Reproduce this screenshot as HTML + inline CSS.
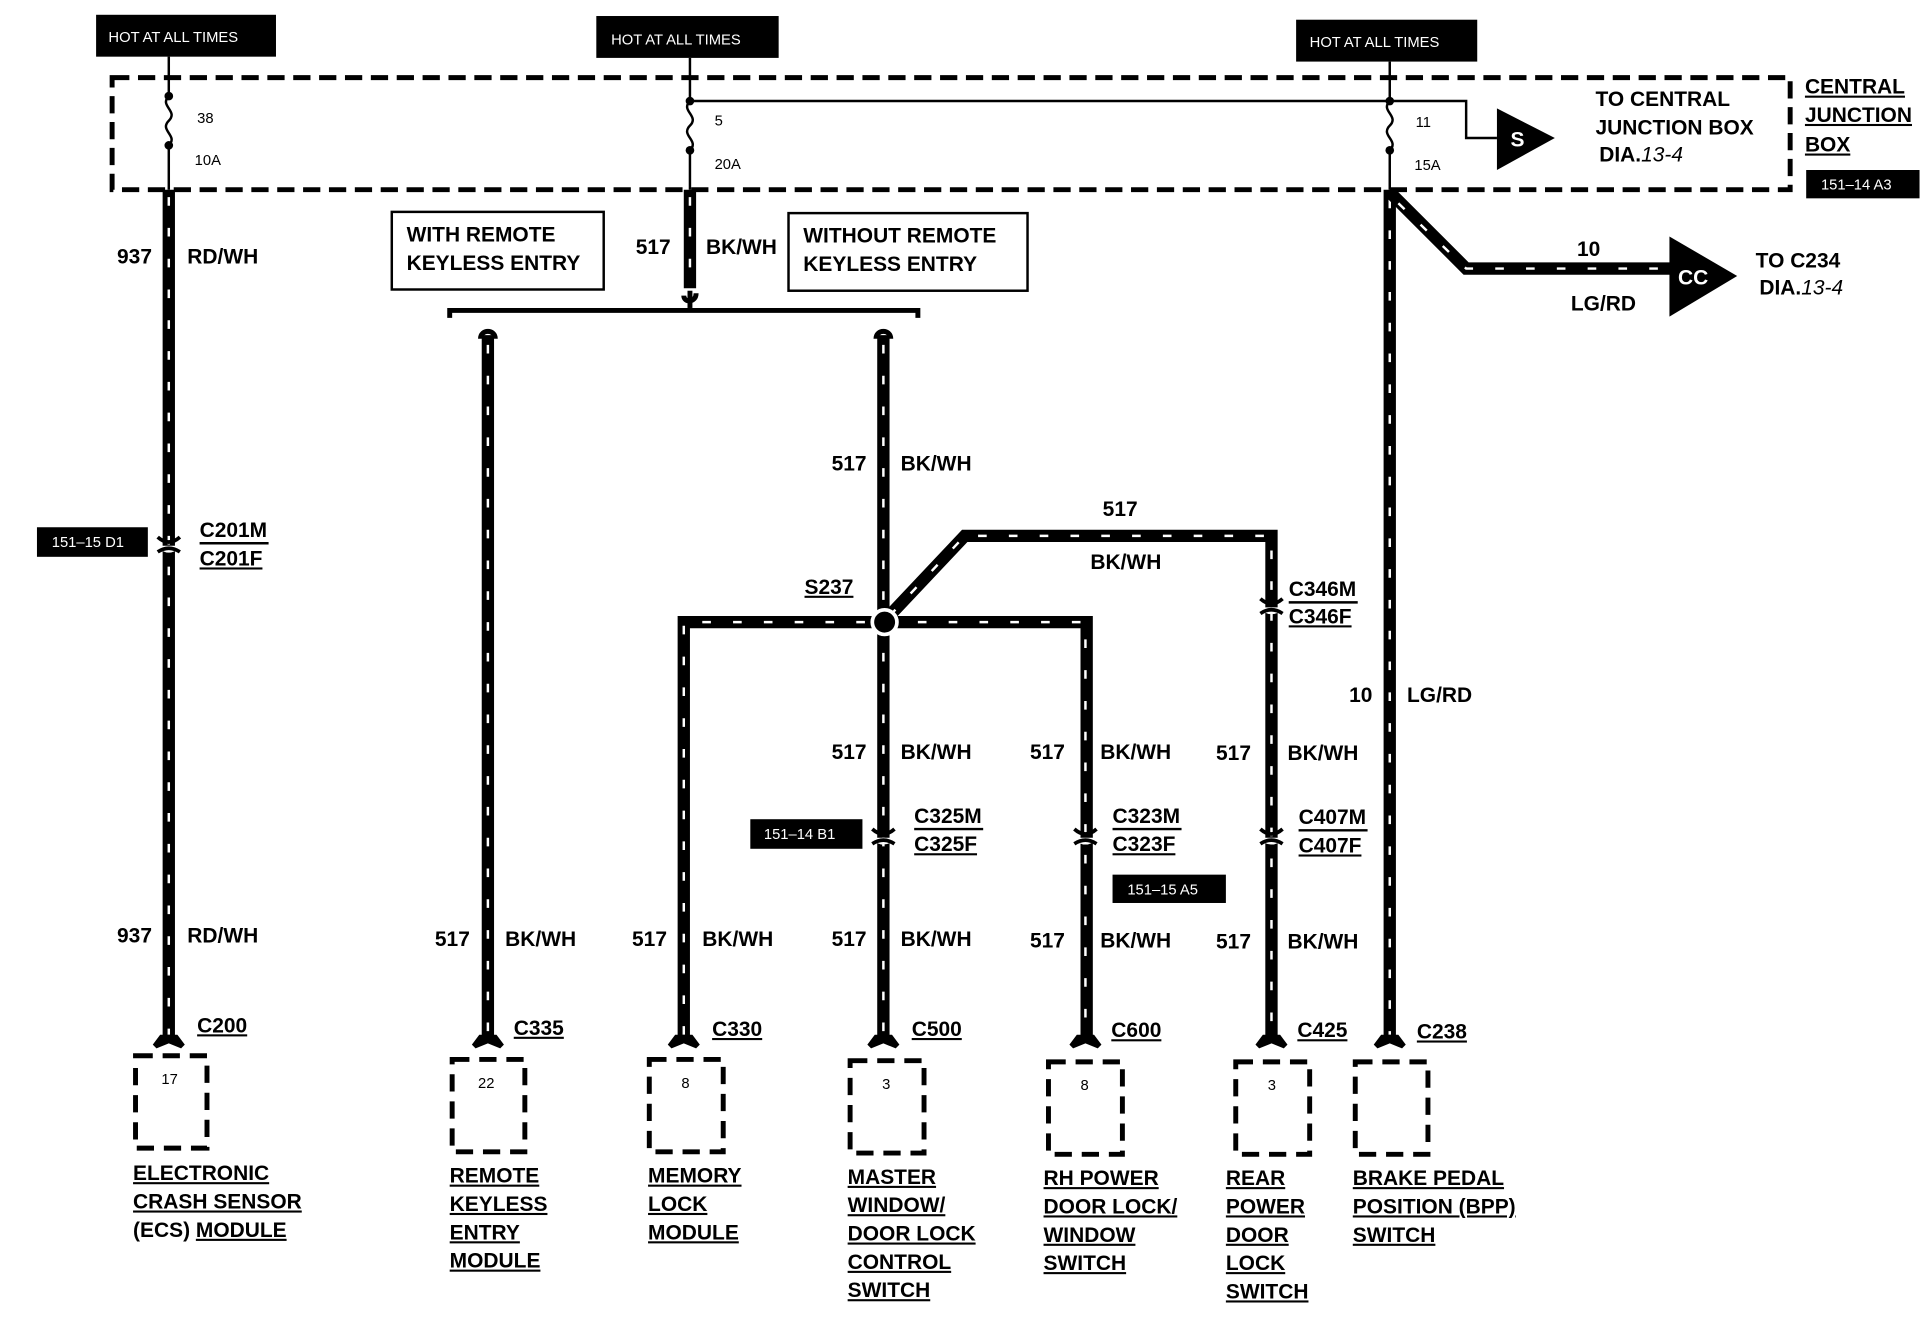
<!DOCTYPE html>
<html><head><meta charset="utf-8"><style>
html,body{margin:0;padding:0;background:#fff;}
svg{display:block}
text{font-family:"Liberation Sans",Arial,sans-serif;font-weight:bold;fill:#000}
.l{font-size:17px}
.s{font-size:12px;font-weight:normal}
.u{text-decoration:underline}
.w{fill:none;stroke:#000;stroke-width:10;stroke-linejoin:miter}
.t{fill:none;stroke:#fff;stroke-width:2;stroke-dasharray:7 18}
.d{fill:none;stroke:#000;stroke-width:4;stroke-dasharray:14 7}
.bx{fill:#000}
.wt{fill:#fff;font-size:12px;font-weight:normal}
</style></head><body>
<svg width="1922" height="1344" viewBox="0 0 1560 1091" preserveAspectRatio="none" xmlns="http://www.w3.org/2000/svg">
<rect width="1560" height="1091" fill="#fff"/>
<!-- HOT boxes -->
<rect class="bx" x="78" y="12" width="146" height="34"/><text class="wt" x="88" y="34">HOT AT ALL TIMES</text>
<rect class="bx" x="484" y="13" width="148" height="34"/><text class="wt" x="496" y="36">HOT AT ALL TIMES</text>
<rect class="bx" x="1052" y="16" width="147" height="34"/><text class="wt" x="1063" y="38">HOT AT ALL TIMES</text>
<!-- junction box dashed -->
<rect class="d" x="91" y="63" width="1362" height="91"/>
<!-- fuses -->
<g fill="none" stroke="#000" stroke-width="2">
<path d="M137 46 V78 M137 78 c-8 8 8 12 0 20 c-8 8 8 12 0 20 V154"/>
<path d="M560 47 V82 M560 82 c-8 8 8 12 0 20 c-8 8 8 12 0 20 V154"/>
<path d="M1128 50 V82 M1128 82 c-8 8 8 12 0 20 c-8 8 8 12 0 20 V154"/>
<path d="M560 82 H1190 V112 H1215"/>
</g>
<g fill="#000"><circle cx="137" cy="78" r="3.5"/><circle cx="137" cy="118" r="3.5"/><circle cx="560" cy="82" r="3.5"/><circle cx="560" cy="122" r="3.5"/><circle cx="1128" cy="82" r="3.5"/><circle cx="1128" cy="122" r="3.5"/></g>
<text class="s" x="160" y="100">38</text><text class="s" x="158" y="134">10A</text>
<text class="s" x="580" y="102">5</text><text class="s" x="580" y="137">20A</text>
<text class="s" x="1149" y="103">11</text><text class="s" x="1148" y="138">15A</text>
<polygon points="1215,88 1262,112 1215,138" fill="#000"/><text x="1226" y="119" class="l" fill="#fff" style="fill:#fff">S</text>
<text class="l" x="1295" y="86">TO CENTRAL</text>
<text class="l" x="1295" y="109">JUNCTION BOX</text>
<text class="l" x="1298" y="131">DIA.<tspan font-style="italic" font-weight="normal">13-4</tspan></text>
<text class="l u" x="1465" y="76">CENTRAL</text>
<text class="l u" x="1465" y="99">JUNCTION</text>
<text class="l u" x="1465" y="123">BOX</text>
<rect class="bx" x="1466" y="138" width="92" height="23"/><text class="wt" x="1478" y="154">151–14 A3</text>

<!-- wires -->
<g>
<path class="w" d="M137 154 V845"/><path class="t" d="M137 160 V840"/>
<path class="w" d="M560 154 V234"/><path class="t" d="M560 160 V230"/>
<path class="w" d="M396 272 V845"/><path class="t" d="M396 280 V840"/>
<path class="w" d="M717 272 V845"/><path class="t" d="M717 280 V840"/>
<path class="w" d="M555 845 V505 H882 V845"/><path class="t" d="M555 840 V505 H881 V840"/>
<path class="w" d="M717 505 L783 435 H1032 V845"/><path class="t" d="M722 500 L783 435 H1032 V840"/>
<path class="w" d="M1128 154 V845"/><path class="t" d="M1128 162 V840"/>
<path class="w" d="M1128 156 L1190 218 H1358"/><path class="t" d="M1135 165 L1190 218 H1350"/>
</g>
<polygon points="1355,192 1410,224 1355,257" fill="#000"/><text x="1362" y="231" class="l" style="fill:#fff">CC</text>
<text class="l" x="1280" y="208">10</text><text class="l" x="1275" y="252">LG/RD</text>
<text class="l" x="1425" y="217">TO C234</text>
<text class="l" x="1428" y="239">DIA.<tspan font-style="italic" font-weight="normal">13-4</tspan></text>

<!-- bracket -->
<g fill="none" stroke="#000" stroke-width="4">
<path d="M365 258 V252 H745 V258"/>
<path d="M560 250 L560 236"/>
<path d="M390 275 c0 -8 12 -8 12 0"/><path d="M711 275 c0 -8 12 -8 12 0"/>
<path d="M555 240 c0 6 10 6 10 -2"/>
</g>
<circle cx="718" cy="505" r="10" fill="#000" stroke="#fff" stroke-width="3"/>

<!-- option boxes -->
<rect x="318" y="172" width="172" height="63" fill="none" stroke="#000" stroke-width="2"/>
<text class="l" x="330" y="196">WITH REMOTE</text><text class="l" x="330" y="219">KEYLESS ENTRY</text>
<rect x="640" y="173" width="194" height="63" fill="none" stroke="#000" stroke-width="2"/>
<text class="l" x="652" y="197">WITHOUT REMOTE</text><text class="l" x="652" y="220">KEYLESS ENTRY</text>

<!-- wire labels -->
<text class="l" x="95" y="214">937</text><text class="l" x="152" y="214">RD/WH</text>
<text class="l" x="516" y="206">517</text><text class="l" x="573" y="206">BK/WH</text>
<text class="l" x="675" y="382">517</text><text class="l" x="731" y="382">BK/WH</text>
<text class="l" x="895" y="419">517</text><text class="l" x="885" y="462">BK/WH</text>
<text class="l u" x="653" y="482">S237</text>
<text class="l" x="675" y="616">517</text><text class="l" x="731" y="616">BK/WH</text>
<text class="l" x="836" y="616">517</text><text class="l" x="893" y="616">BK/WH</text>
<text class="l" x="987" y="617">517</text><text class="l" x="1045" y="617">BK/WH</text>
<text class="l" x="1095" y="570">10</text><text class="l" x="1142" y="570">LG/RD</text>
<text class="l" x="95" y="765">937</text><text class="l" x="152" y="765">RD/WH</text>
<text class="l" x="353" y="768">517</text><text class="l" x="410" y="768">BK/WH</text>
<text class="l" x="513" y="768">517</text><text class="l" x="570" y="768">BK/WH</text>
<text class="l" x="675" y="768">517</text><text class="l" x="731" y="768">BK/WH</text>
<text class="l" x="836" y="769">517</text><text class="l" x="893" y="769">BK/WH</text>
<text class="l" x="987" y="770">517</text><text class="l" x="1045" y="770">BK/WH</text>

<!-- inline connectors -->
<g fill="#fff" stroke="#fff" stroke-width="3">
<path d="M128 443 q9 8 18 0"/><path d="M708 680 q9 8 18 0"/><path d="M872 680 q9 8 18 0"/><path d="M1023 680 q9 8 18 0"/><path d="M1023 493 q9 8 18 0"/>
</g>
<g fill="none" stroke="#000" stroke-width="3">
<path d="M128 436 q9 8 18 0 M128 448 q9 -6 18 0"/>
<path d="M708 673 q9 8 18 0 M708 685 q9 -6 18 0"/>
<path d="M872 673 q9 8 18 0 M872 685 q9 -6 18 0"/>
<path d="M1023 673 q9 8 18 0 M1023 685 q9 -6 18 0"/>
<path d="M1023 486 q9 8 18 0 M1023 498 q9 -6 18 0"/>
</g>
<text class="l" x="162" y="436">C201M</text><text class="l u" x="162" y="459">C201F</text><line x1="162" y1="441" x2="218" y2="441" stroke="#000" stroke-width="2"/>
<text class="l" x="742" y="668">C325M</text><text class="l u" x="742" y="691">C325F</text><line x1="742" y1="673" x2="798" y2="673" stroke="#000" stroke-width="2"/>
<text class="l" x="903" y="668">C323M</text><text class="l u" x="903" y="691">C323F</text><line x1="903" y1="673" x2="959" y2="673" stroke="#000" stroke-width="2"/>
<text class="l" x="1054" y="669">C407M</text><text class="l u" x="1054" y="692">C407F</text><line x1="1054" y1="674" x2="1110" y2="674" stroke="#000" stroke-width="2"/>
<text class="l" x="1046" y="484">C346M</text><text class="l u" x="1046" y="506">C346F</text><line x1="1046" y1="489" x2="1102" y2="489" stroke="#000" stroke-width="2"/>
<rect class="bx" x="30" y="428" width="90" height="24"/><text class="wt" x="42" y="444">151–15 D1</text>
<rect class="bx" x="609" y="665" width="91" height="24"/><text class="wt" x="620" y="681">151–14 B1</text>
<rect class="bx" x="903" y="710" width="92" height="23"/><text class="wt" x="915" y="726">151–15 A5</text>

<!-- terminals & components -->
<g fill="#000">
<path d="M130 840 h14 l6 8 l-3 3 l-10 -4 l-10 4 l-3 -3z"/>
<path d="M389 840 h14 l6 8 l-3 3 l-10 -4 l-10 4 l-3 -3z"/>
<path d="M548 840 h14 l6 8 l-3 3 l-10 -4 l-10 4 l-3 -3z"/>
<path d="M710 840 h14 l6 8 l-3 3 l-10 -4 l-10 4 l-3 -3z"/>
<path d="M874 840 h14 l6 8 l-3 3 l-10 -4 l-10 4 l-3 -3z"/>
<path d="M1025 840 h14 l6 8 l-3 3 l-10 -4 l-10 4 l-3 -3z"/>
<path d="M1121 840 h14 l6 8 l-3 3 l-10 -4 l-10 4 l-3 -3z"/>
</g>
<g fill="none" stroke="#000" stroke-width="4" stroke-dasharray="14 8">
<rect x="110" y="857" width="58" height="75"/>
<rect x="367" y="860" width="59" height="75"/>
<rect x="527" y="860" width="60" height="75"/>
<rect x="690" y="861" width="60" height="75"/>
<rect x="851" y="862" width="60" height="75"/>
<rect x="1003" y="862" width="60" height="75"/>
<rect x="1100" y="862" width="59" height="75"/>
</g>
<text class="s" x="131" y="880">17</text><text class="s" x="388" y="883">22</text><text class="s" x="553" y="883">8</text>
<text class="s" x="716" y="884">3</text><text class="s" x="877" y="885">8</text><text class="s" x="1029" y="885">3</text>
<text class="l u" x="160" y="838">C200</text>
<text class="l u" x="417" y="840">C335</text>
<text class="l u" x="578" y="841">C330</text>
<text class="l u" x="740" y="841">C500</text>
<text class="l u" x="902" y="842">C600</text>
<text class="l u" x="1053" y="842">C425</text>
<text class="l u" x="1150" y="843">C238</text>

<g class="l">
<text class="l u" x="108" y="958">ELECTRONIC</text><text class="l u" x="108" y="981">CRASH SENSOR</text><text class="l" x="108" y="1004">(ECS) <tspan class="u" style="text-decoration:underline">MODULE</tspan></text>
<text class="l u" x="365" y="960">REMOTE</text><text class="l u" x="365" y="983">KEYLESS</text><text class="l u" x="365" y="1006">ENTRY</text><text class="l u" x="365" y="1029">MODULE</text>
<text class="l u" x="526" y="960">MEMORY</text><text class="l u" x="526" y="983">LOCK</text><text class="l u" x="526" y="1006">MODULE</text>
<text class="l u" x="688" y="961">MASTER</text><text class="l u" x="688" y="984">WINDOW/</text><text class="l u" x="688" y="1007">DOOR LOCK</text><text class="l u" x="688" y="1030">CONTROL</text><text class="l u" x="688" y="1053">SWITCH</text>
<text class="l u" x="847" y="962">RH POWER</text><text class="l u" x="847" y="985">DOOR LOCK/</text><text class="l u" x="847" y="1008">WINDOW</text><text class="l u" x="847" y="1031">SWITCH</text>
<text class="l u" x="995" y="962">REAR</text><text class="l u" x="995" y="985">POWER</text><text class="l u" x="995" y="1008">DOOR</text><text class="l u" x="995" y="1031">LOCK</text><text class="l u" x="995" y="1054">SWITCH</text>
<text class="l u" x="1098" y="962">BRAKE PEDAL</text><text class="l u" x="1098" y="985">POSITION (BPP)</text><text class="l u" x="1098" y="1008">SWITCH</text>
</g>
</svg>
</body></html>
